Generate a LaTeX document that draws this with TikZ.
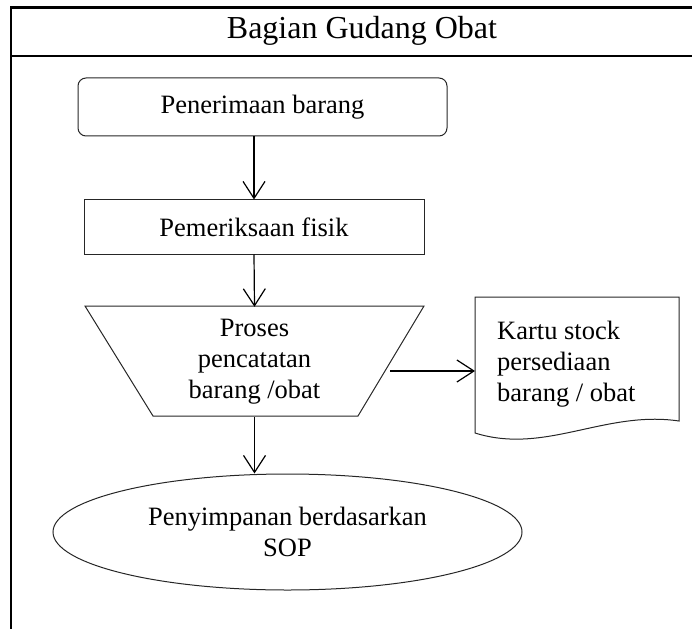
\documentclass[tikz,border=0pt]{standalone}
\usepackage{fontspec}
\setmainfont{Liberation Serif}
\usetikzlibrary{arrows.meta,shapes.geometric}

\begin{document}
\begin{tikzpicture}[x=1pt,y=-1pt,
  every node/.style={font=\fontsize{26.5}{31}\selectfont},
  frameline/.style={line width=2.2pt, draw=black},
  shapeline/.style={line width=1pt, draw=black!85},
  conn/.style={line width=1.2pt, draw=black,
    -{Straight Barb[length=17pt,width=22pt,line width=1.2pt]}}
]
\useasboundingbox (0,0) rectangle (692,628);
\clip (0,0) rectangle (692,628);

% swimlane frame with its heading
\draw[frameline] (11,640) -- (11,7.5) -- (720,7.5);
\draw[frameline] (11,56) -- (720,56);
\node[font=\fontsize{32}{38}\selectfont] (title) at (362,31) {Bagian Gudang Obat};

% process steps
\node[shapeline, draw, rounded corners=8pt, minimum width=369pt, minimum height=58pt]
  (recv) at (262.5,107) {Penerimaan barang};
\node[shapeline, draw, minimum width=340pt, minimum height=54pt]
  (check) at (254,227) {Pemeriksaan fisik};

% manual operation (inverted trapezoid)
\draw[shapeline] (85,306) -- (424,306) -- (358,416) -- (153,416) -- cycle;
\node[align=center, minimum width=339pt, minimum height=110pt, inner sep=0]
  (proc) at (254.5,362) {Proses\\pencatatan\\barang /obat};

% document shape with wavy bottom
\draw[shapeline] (475,297) -- (679,297) -- (679,421)
  .. controls (605,410) and (545,455) .. (475,433) -- cycle;
\node[anchor=west, align=left, inner sep=0]
  (doc) at (497,364) {Kartu stock\\persediaan\\barang / obat};

% terminal ellipse
\node[shapeline, draw, ellipse, minimum width=469pt, minimum height=116pt, inner sep=0, align=center]
  (store) at (287.5,532) {Penyimpanan berdasarkan\\SOP};

% connectors
\coordinate (procout) at (390,371);
\coordinate (docin) at (475,371);
\draw[conn] (recv.south -| check.north) -- (check.north);
\draw[conn] (check.south) -- (proc.north);
\draw[conn] (procout) -- (docin);
\draw[conn] (proc.south) -- (proc.south |- store.north);
\end{tikzpicture}
\end{document}
